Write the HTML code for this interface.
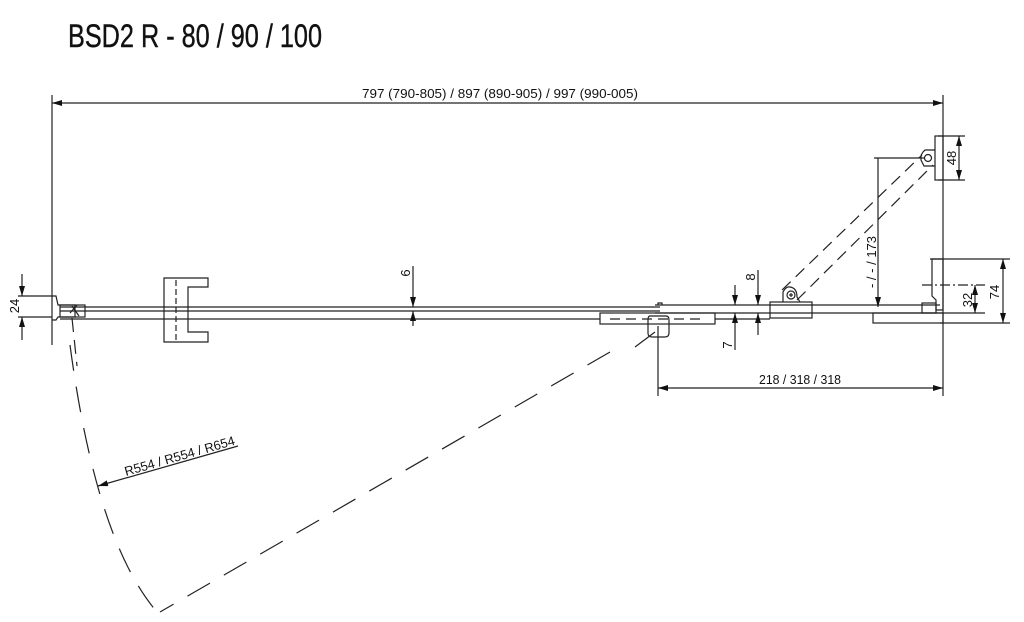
<!DOCTYPE html>
<html><head><meta charset="utf-8"><style>
html,body{margin:0;padding:0;background:#fff;width:1024px;height:622px;overflow:hidden}
svg{display:block}
text{font-family:"Liberation Sans",sans-serif;fill:#111}
</style></head><body>
<svg width="1024" height="622" viewBox="0 0 1024 622" xmlns="http://www.w3.org/2000/svg">
<defs>
<marker id="a" viewBox="0 0 10 6" refX="10" refY="3" markerWidth="10" markerHeight="6" orient="auto-start-reverse" markerUnits="userSpaceOnUse"><path d="M0,0L10,3L0,6z" fill="#111"/></marker>
</defs>
<text x="68" y="47" font-size="32" textLength="254" lengthAdjust="spacingAndGlyphs" stroke="#111" stroke-width="0.4">BSD2 R - 80 / 90 / 100</text>
<g stroke="#222" stroke-width="1.2" fill="none">
<line x1="52" y1="95" x2="52" y2="345"/>
<line x1="943" y1="95" x2="943" y2="396"/>
<line x1="52" y1="103" x2="943" y2="103" marker-start="url(#a)" marker-end="url(#a)"/>
<line x1="60" y1="307" x2="660" y2="307"/>
<line x1="60" y1="311" x2="660" y2="311"/>
<line x1="60" y1="319" x2="600" y2="319"/>
<line x1="655" y1="305" x2="940" y2="305"/>
<line x1="655" y1="313" x2="940" y2="313"/>
<line x1="715" y1="319" x2="770" y2="319"/>
<path d="M52,296 L56,296 L58,305 L75,305 L75,317 L58,317 L56,320 L52,320"/>
<rect x="60" y="305" width="25" height="12"/>
<line x1="72" y1="306" x2="79" y2="316"/>
<line x1="70" y1="313" x2="77" y2="305"/>
<line x1="72" y1="318" x2="77" y2="366" stroke-dasharray="14,8"/>
<line x1="22" y1="274" x2="22" y2="296" marker-end="url(#a)"/>
<line x1="22" y1="340" x2="22" y2="317" marker-end="url(#a)"/>
<line x1="18" y1="296" x2="52" y2="296"/>
<line x1="18" y1="317" x2="52" y2="317"/>
<path d="M164,278 L208,278 L208,287 L188,287 L188,332 L208,332 L208,342 L164,342 Z"/>
<line x1="176" y1="280" x2="176" y2="340" stroke-dasharray="6,3"/>
<line x1="413" y1="266" x2="413" y2="307" marker-end="url(#a)"/>
<line x1="413" y1="326" x2="413" y2="311" marker-end="url(#a)"/>
<rect x="600" y="313" width="115" height="11"/>
<line x1="610" y1="319" x2="705" y2="319" stroke-dasharray="10,6"/>
<path d="M650,316 L666,316 Q669,316 669,320 L669,333 Q669,337 665,337 L652,337 Q648,337 648,333 L648,320 Q648,316 650,316Z"/>
<path d="M658,305 L658,303 L662,303 L662,305"/>
<line x1="658" y1="326" x2="658" y2="396"/>
<line x1="655" y1="332" x2="635" y2="347"/>
<line x1="610" y1="352" x2="160" y2="612" stroke-dasharray="26,16"/>
<path d="M70,345 Q96,541 157,612" stroke-dasharray="26,16"/>
<line x1="238" y1="446" x2="98" y2="486" marker-end="url(#a)"/>
<line x1="735" y1="285" x2="735" y2="305" marker-end="url(#a)"/>
<line x1="735" y1="350" x2="735" y2="313" marker-end="url(#a)"/>
<line x1="758" y1="270" x2="758" y2="305" marker-end="url(#a)"/>
<line x1="758" y1="335" x2="758" y2="313" marker-end="url(#a)"/>
<rect x="770" y="302" width="42" height="16"/>
<path d="M783,302 L783,292 Q786,286 790,287 Q797,288 797,297 L800,302"/>
<circle cx="791" cy="295" r="4"/>
<line x1="789" y1="295" x2="793" y2="295"/><line x1="791" y1="293" x2="791" y2="297"/>
<line x1="782" y1="290" x2="922" y2="155" stroke-dasharray="12,7"/>
<line x1="797" y1="300" x2="933" y2="165" stroke-dasharray="12,7"/>
<rect x="935" y="136" width="8" height="44"/>
<path d="M935,150 L925,150 Q920,154 921,160 L924,166 L935,166"/>
<circle cx="928" cy="158" r="3.5"/>
<line x1="938" y1="136" x2="965" y2="136"/>
<line x1="938" y1="180" x2="965" y2="180"/>
<line x1="959" y1="136" x2="959" y2="180" marker-start="url(#a)" marker-end="url(#a)"/>
<line x1="874" y1="158" x2="925" y2="158"/>
<line x1="878" y1="158" x2="878" y2="307" marker-end="url(#a)"/>
<path d="M932,259 L943,259 L943,310 L936,310 L936,300 L932,296 Z"/>
<rect x="922" y="303" width="14" height="10"/>
<rect x="873" y="313" width="70" height="10"/>
<line x1="930" y1="259" x2="1010" y2="259"/>
<line x1="940" y1="323" x2="1010" y2="323"/>
<line x1="1003" y1="259" x2="1003" y2="323" marker-start="url(#a)" marker-end="url(#a)"/>
<line x1="922" y1="285" x2="985" y2="285" stroke-dasharray="10,3,2,3"/>
<line x1="940" y1="313" x2="985" y2="313"/>
<line x1="975" y1="285" x2="975" y2="313" marker-start="url(#a)" marker-end="url(#a)"/>
<line x1="658" y1="388" x2="943" y2="388" marker-start="url(#a)" marker-end="url(#a)"/>
</g>
<text x="500" y="98" font-size="13" text-anchor="middle" textLength="276" lengthAdjust="spacingAndGlyphs">797 (790-805) / 897 (890-905) / 997 (990-005)</text>
<text transform="translate(19,306) rotate(-90)" font-size="13" text-anchor="middle">24</text>
<text transform="translate(410,273) rotate(-90)" font-size="13" text-anchor="middle">6</text>
<text transform="translate(755,277) rotate(-90)" font-size="13" text-anchor="middle">8</text>
<text transform="translate(732,345) rotate(-90)" font-size="13" text-anchor="middle">7</text>
<text transform="translate(956,158) rotate(-90)" font-size="13" text-anchor="middle">48</text>
<text transform="translate(876,262) rotate(-90)" font-size="13" text-anchor="middle">- / - / 173</text>
<text transform="translate(972,300) rotate(-90)" font-size="13" text-anchor="middle">32</text>
<text transform="translate(999,292) rotate(-90)" font-size="13" text-anchor="middle">74</text>
<text x="800" y="384" font-size="13" text-anchor="middle" textLength="82" lengthAdjust="spacingAndGlyphs">218 / 318 / 318</text>
<text transform="translate(126,476) rotate(-16)" font-size="13" textLength="114" lengthAdjust="spacingAndGlyphs">R554 / R554 / R654</text>
</svg>
</body></html>
